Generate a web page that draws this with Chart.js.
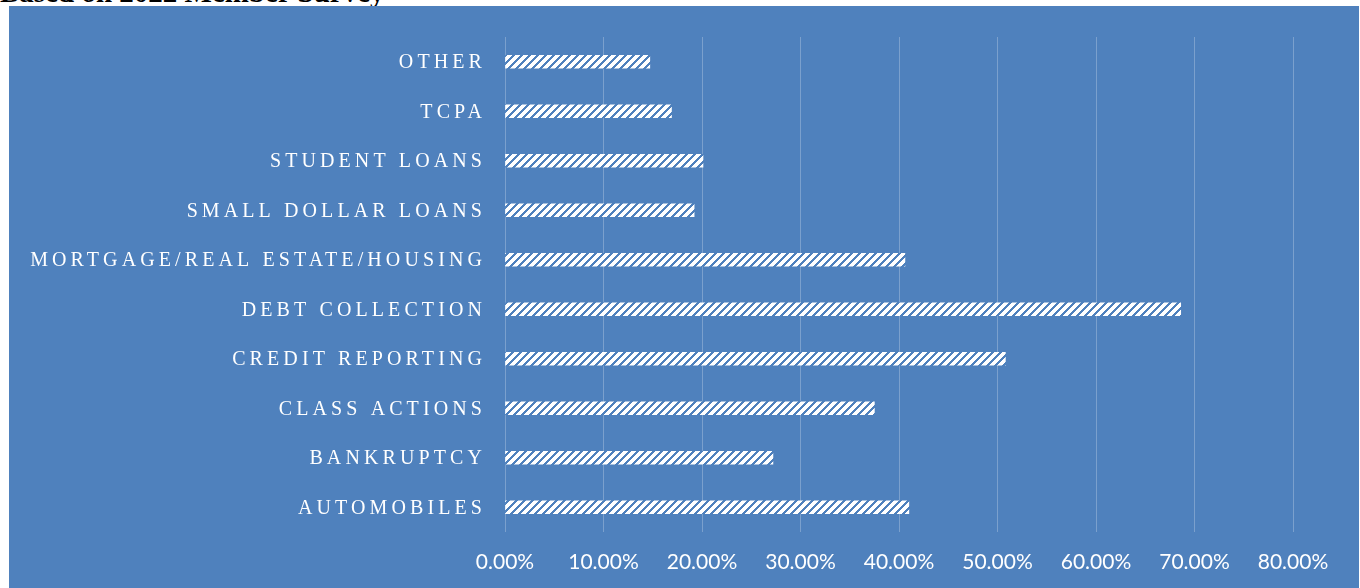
<!DOCTYPE html>
<html>
<head>
<meta charset="utf-8">
<script src="https://cdn.jsdelivr.net/npm/chart.js@4/dist/chart.umd.min.js"></script>
<style>
  html, body { margin: 0; padding: 0; background: #fff; overflow: hidden; }
  #title {
    position: absolute; left: 0; top: -22px;
    font: bold 29px "Liberation Serif", serif; line-height: 29px;
    color: #000; white-space: nowrap;
  }
  #box {
    position: absolute; left: 9px; top: 6px; width: 1350px; height: 582px;
    background: #4f81bd;
  }
</style>
</head>
<body>
<div id="title">Based on 2022 Member Survey</div>
<div id="box"><canvas id="practiceChart" width="1350" height="582"></canvas></div>
<script>
// categories, top to bottom as drawn
const categories = [
  'OTHER',
  'TCPA',
  'STUDENT LOANS',
  'SMALL DOLLAR LOANS',
  'MORTGAGE/REAL ESTATE/HOUSING',
  'DEBT COLLECTION',
  'CREDIT REPORTING',
  'CLASS ACTIONS',
  'BANKRUPTCY',
  'AUTOMOBILES',
];

// share of members (percent)
const shares = [14.7, 16.9, 20.1, 19.2, 40.6, 68.6, 50.8, 37.5, 27.2, 41.0];

// x axis ticks
const xMax = 80;
const xStep = 10;

const BLUE = '#4f81bd';
const LABEL_SPACING = 4.1;

// white / blue upward diagonal hatch
function makeHatch() {
  const c = document.createElement('canvas');
  c.width = 8;
  c.height = 8;
  const g = c.getContext('2d');
  g.fillStyle = '#ffffff';
  g.fillRect(0, 0, 8, 8);
  g.fillStyle = BLUE;
  for (let y = 0; y < 8; y++) {
    for (let x = 0; x < 8; x++) {
      if ((x + y) % 8 < 3) g.fillRect(x, y, 1, 1);
    }
  }
  return g.createPattern(c, 'repeat');
}

const ctx = document.getElementById('practiceChart').getContext('2d');

new Chart(ctx, {
  type: 'bar',
  data: {
    labels: categories,
    datasets: [{
      data: shares,
      backgroundColor: makeHatch(),
      borderWidth: 0,
      barThickness: 13,
    }],
  },
  options: {
    indexAxis: 'y',
    responsive: false,
    animation: false,
    layout: { padding: { top: 30, right: 66, left: 0, bottom: 0 } },
    plugins: {
      legend: { display: false },
      tooltip: { enabled: false },
    },
    scales: {
      x: {
        min: 0,
        max: xMax,
        grid: { color: 'rgba(255,255,255,0.25)', lineWidth: 1, drawTicks: false },
        border: { display: false },
        ticks: {
          stepSize: xStep,
          color: '#ffffff',
          padding: 18,
          font: { family: 'Lato, "Liberation Sans", sans-serif', size: 21 },
          callback: (v) => v.toFixed(2) + '%',
        },
        afterFit: (scale) => { scale.height = 56; },
      },
      y: {
        grid: { display: false, drawTicks: false },
        border: { display: false },
        ticks: {
          color: '#ffffff',
          padding: 19,
          font: { family: '"Liberation Serif", serif', size: 20 },
        },
        afterFit: (scale) => { scale.width = 496; },
        // letter-spaced category labels
        afterUpdate: (scale) => {
          if (scale._spaced) return;
          scale._spaced = true;
          const draw = scale.drawLabels;
          scale.drawLabels = function (area) {
            this.ctx.save();
            this.ctx.letterSpacing = LABEL_SPACING + 'px';
            this.ctx.translate(0, 1);
            draw.call(this, area);
            this.ctx.restore();
          };
        },
      },
    },
  },
});
</script>
</body>
</html>
